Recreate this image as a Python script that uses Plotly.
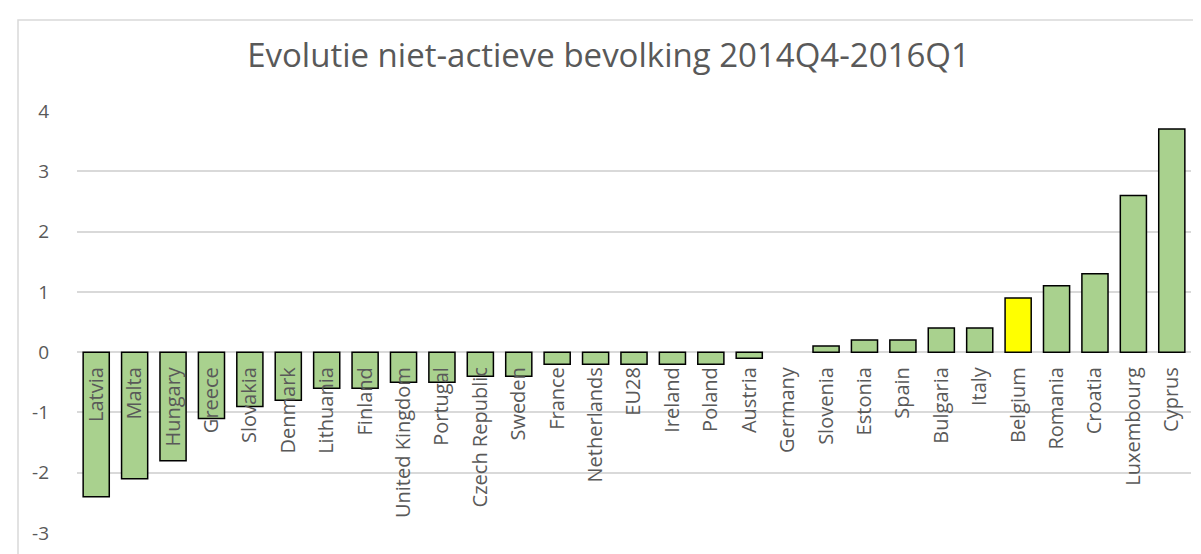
import plotly.graph_objects as go

countries = [
    "Latvia", "Malta", "Hungary", "Greece", "Slovakia", "Denmark", "Lithuania",
    "Finland", "United Kingdom", "Portugal", "Czech Republic", "Sweden", "France",
    "Netherlands", "EU28", "Ireland", "Poland", "Austria", "Germany", "Slovenia",
    "Estonia", "Spain", "Bulgaria", "Italy", "Belgium", "Romania", "Croatia",
    "Luxembourg", "Cyprus",
]
values = [
    -2.4, -2.1, -1.8, -1.1, -0.9, -0.8, -0.6,
    -0.6, -0.5, -0.5, -0.4, -0.4, -0.2,
    -0.2, -0.2, -0.2, -0.2, -0.1, 0.0, 0.1,
    0.2, 0.2, 0.4, 0.4, 0.9, 1.1, 1.3,
    2.6, 3.7,
]
highlight = "Belgium"
y_ticks = [-3, -2, -1, 0, 1, 2, 3, 4]

GREEN = "#A9D18E"
YELLOW = "#FFFF00"
GRID = "#D9D9D9"
TEXT = "#595959"
FONT = "Open Sans"

colors = [YELLOW if c == highlight else GREEN for c in countries]
# Excel draws no outline for an empty bar
outline = [0 if v == 0 else 1.5 for v in values]

y_min, y_max = -3, 4

fig = go.Figure(
    go.Bar(
        x=countries,
        y=values,
        marker=dict(color=colors, line=dict(color="black", width=outline)),
    )
)

fig.update_layout(
    width=1201,
    height=554,
    margin=dict(l=69, r=18, t=103, b=29),
    paper_bgcolor="white",
    plot_bgcolor="white",
    showlegend=False,
    bargap=0.32,
    title=dict(
        text="Evolutie niet-actieve bevolking 2014Q4-2016Q1",
        x=0.5,
        xanchor="center",
        y=0.915,
        yanchor="middle",
        font=dict(family=FONT, size=33, color=TEXT),
    ),
    font=dict(family=FONT, color=TEXT),
)

# category labels hang from the zero line, as in the Excel original
fig.update_xaxes(
    anchor="free",
    position=(0 - y_min) / (y_max - y_min),
    range=[-0.5, len(countries) - 0.5],
    tickangle=-90,
    tickfont=dict(family=FONT, size=20, color=TEXT),
    showgrid=False,
    showline=False,
    ticks="",
    ticklabelstandoff=10,
    automargin=False,
)

fig.update_yaxes(
    range=[y_min, y_max],
    tickvals=y_ticks,
    ticktext=[str(t) for t in y_ticks],
    domain=[0, 1],
    showgrid=True,
    gridcolor=GRID,
    gridwidth=1.5,
    zeroline=True,
    zerolinecolor=GRID,
    zerolinewidth=1.5,
    showline=False,
    ticks="",
    tickfont=dict(family=FONT, size=19, color=TEXT),
    ticklabelstandoff=27,
    automargin=False,
)

# chart area border
fig.add_shape(
    type="rect",
    xref="paper", yref="paper",
    x0=-59 / 1114, x1=1.2, y0=-0.2, y1=1 + 91 / 422,
    line=dict(color=GRID, width=1.5),
    fillcolor="rgba(0,0,0,0)",
    layer="below",
)

fig.write_html("out.html")
